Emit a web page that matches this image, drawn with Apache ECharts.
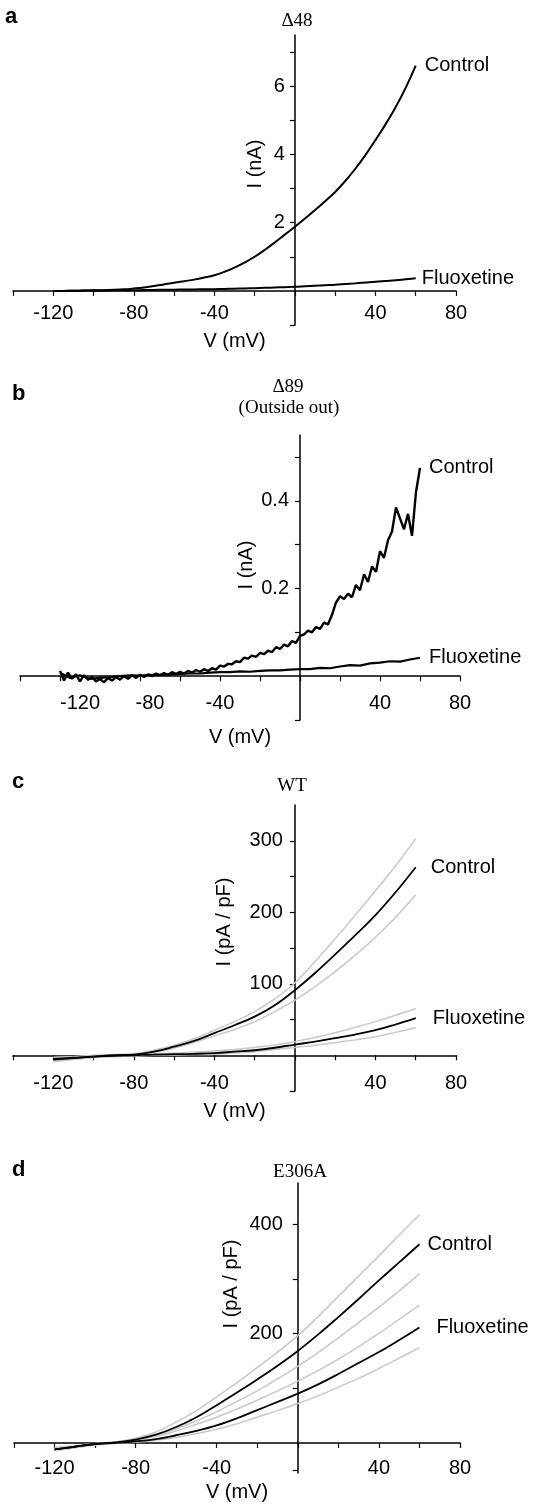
<!DOCTYPE html>
<html>
<head>
<meta charset="utf-8">
<style>
html, body { margin: 0; padding: 0; background: #fff; }
#container { width: 534px; height: 1507px; }
</style>
</head>
<body>
<div id="container"></div>
<script src="https://cdn.jsdelivr.net/npm/echarts@6/dist/echarts.min.js"></script>
<script>
const SANS = 'Liberation Sans, Arial, Helvetica, sans-serif';
const SERIF = 'Liberation Serif, Times New Roman, serif';
const GRAY = '#c8c8c8';

// x axis (V, mV) shared by all panels
const X_MIN = -140, X_MAX = 80;
const X_TICKS = [-140, -120, -100, -80, -60, -40, -20, 0, 20, 40, 60, 80];
const X_LABELS = [-120, -80, -40, 40, 80];

// panel a : Δ48
const V_A = [-120, -115, -110, -105, -100, -95, -90, -85, -80, -75, -70, -65, -60, -55, -50, -45, -40, -35, -30, -25,
    -20, -15, -10, -5, 0, 5, 10, 15, 20, 25, 30, 35, 40, 45, 50, 55, 60];
const A_CONTROL = [0.0, 0.0, 0.005, 0.01, 0.015, 0.02, 0.03, 0.045, 0.07, 0.1, 0.14, 0.19, 0.24, 0.285, 0.33, 0.39, 0.46, 0.56, 0.68, 0.83,
    1.0, 1.2, 1.42, 1.65, 1.88, 2.12, 2.37, 2.63, 2.9, 3.22, 3.58, 3.98, 4.42, 4.88, 5.38, 5.95, 6.6];
const A_FLUOX = [0.0, 0.0, 0.005, 0.008, 0.01, 0.012, 0.015, 0.018, 0.02, 0.024, 0.028, 0.032, 0.035, 0.04, 0.044, 0.047, 0.05, 0.057, 0.064, 0.072,
    0.08, 0.09, 0.1, 0.11, 0.12, 0.135, 0.15, 0.165, 0.18, 0.2, 0.22, 0.245, 0.27, 0.29, 0.31, 0.34, 0.37];
const A_Y_TICKS = [-1, 1, 2, 3, 4, 5, 6, 7];
const A_Y_LABELS = [2, 4, 6];

// panel b : Δ89 (outside out)
const V_B_CONTROL = [-120, -118, -116, -114, -112, -110, -108, -106, -104, -102, -100, -98, -96, -94, -92, -90, -88, -86, -84, -82,
    -80, -78, -76, -74, -72, -70, -68, -66, -64, -62, -60, -58, -56, -54, -52, -50, -48, -46, -44, -42,
    -40, -38, -36, -34, -32, -30, -28, -26, -24, -22, -20, -18, -16, -14, -12, -10, -8, -6, -4, -2,
    0, 2, 4, 6, 8, 10, 12, 14, 16, 18, 20, 22, 24, 26, 28, 30, 32, 34, 36, 38,
    40, 42, 44, 46, 48, 50, 52, 54, 56, 58, 60];
const B_CONTROL = [0.012, -0.010, 0.008, -0.006, 0.004, -0.012, 0.002, -0.008, -0.002, -0.012, -0.006, -0.014, -0.004, -0.010, -0.002, -0.008, 0.000, -0.006, 0.002, -0.004,
    0.003, -0.002, 0.004, 0.000, 0.006, 0.002, 0.007, 0.003, 0.009, 0.005, 0.010, 0.006, 0.012, 0.008, 0.014, 0.010, 0.016, 0.012, 0.018, 0.015,
    0.024, 0.022, 0.028, 0.027, 0.034, 0.032, 0.042, 0.040, 0.047, 0.044, 0.053, 0.050, 0.058, 0.055, 0.066, 0.062, 0.072, 0.068, 0.080, 0.076,
    0.092, 0.095, 0.104, 0.100, 0.112, 0.108, 0.122, 0.118, 0.140, 0.168, 0.182, 0.176, 0.188, 0.180, 0.208, 0.196, 0.232, 0.215, 0.250, 0.238,
    0.285, 0.270, 0.310, 0.330, 0.385, 0.360, 0.335, 0.370, 0.320, 0.420, 0.475];
const V_B_FLUOX = [-120, -115, -110, -105, -100, -95, -90, -85, -80, -75, -70, -65, -60, -55, -50, -45, -40, -35, -30, -25,
    -20, -15, -10, -5, 0, 5, 10, 15, 20, 25, 30, 35, 40, 45, 50, 55, 60];
const B_FLUOX = [0.008, -0.004, 0.002, -0.006, -0.004, -0.002, 0.000, 0.002, 0.001, 0.003, 0.003, 0.004, 0.005, 0.006, 0.006, 0.008, 0.009, 0.009, 0.011, 0.010,
    0.012, 0.013, 0.013, 0.015, 0.016, 0.016, 0.019, 0.018, 0.022, 0.025, 0.024, 0.029, 0.031, 0.034, 0.033, 0.038, 0.042];
const B_Y_TICKS = [-0.1, 0.1, 0.2, 0.3, 0.4, 0.5];
const B_Y_LABELS = [0.2, 0.4];

// panels c and d : mean (black) and ± SEM (grey)
const V_CD = [-120, -110, -100, -90, -80, -70, -60, -50, -40, -30, -20, -10, 0, 10, 20, 30, 40, 50, 60];

const C_CONTROL = [-6, -4, -2, 0, 1, 5, 12, 20, 31, 42, 54, 70, 91, 115, 141, 168, 196, 228, 263];
const C_CONTROL_HI = [-3, -2, 0, 1, 2, 7, 14, 23, 35, 47, 61, 79, 101, 131, 163, 196, 230, 265, 303];
const C_CONTROL_LO = [-9, -6, -3, -1, 1, 4, 10, 18, 27, 36, 47, 61, 77, 96, 117, 140, 165, 193, 224];
const C_FLUOX = [-5, -3.5, -2, -1, 0, 1, 1.5, 2, 3, 5, 7, 10.5, 15, 19, 24, 29, 35, 43, 52];
const C_FLUOX_HI = [-3, -2, -1, 0, 1, 2, 3, 4.5, 6, 8, 11, 14.5, 19, 25, 31.5, 39, 47, 56, 65.5];
const C_FLUOX_LO = [-8, -5, -3, -2, -1, 0, 0.5, 1, 1.5, 3, 5, 8, 11, 14, 17.6, 21.5, 26, 32, 38.5];
const C_Y_TICKS = [-50, 50, 100, 150, 200, 250, 300];
const C_Y_LABELS = [100, 200, 300];

const D_CONTROL = [-12, -7, -2, 1, 6, 15, 29, 47, 69, 92, 116, 141, 168, 198, 230, 263, 297, 330, 363];
const D_CONTROL_HI = [-8, -5, -1, 2, 8.6, 20, 38, 59, 84, 110, 138, 166, 196, 231, 268, 305, 342, 380, 417];
const D_CONTROL_LO = [-14, -9, -3, 1, 6, 14, 26, 40, 57, 76, 95, 117, 140, 165, 192, 220, 248, 278, 309];
const D_FLUOX = [-12, -7, -2, 0, 3, 7, 14, 22, 32, 45, 60, 75, 90, 107, 126, 146, 166, 188, 211];
const D_FLUOX_HI = [-14, -9, -3, 1, 5, 12, 22, 34, 47, 62, 78, 95, 113, 132, 153, 176, 200, 226, 252];
const D_FLUOX_LO = [-14, -9, -4, -1, 1, 5, 10, 17, 25, 35, 47, 59, 72, 86, 102, 118, 136, 155, 174];
const D_Y_TICKS = [-50, 100, 200, 300, 400];
const D_Y_LABELS = [200, 400];

const pair = (xs, ys) => xs.map((x, i) => [x, ys[i]]);

const W = 534;
const grids = [
    { left: 13, right: 78, top: 35, height: 290, ymin: -1, ymax: 7.5 },
    { left: 20, right: 74, top: 435, height: 285, ymin: -0.1, ymax: 0.55 },
    { left: 13, right: 78, top: 805, height: 286, ymin: -50, ymax: 350 },
    { left: 14, right: 74, top: 1183, height: 290, ymin: -55, ymax: 475 }
];

// the axes cross at (0, 0): shift each axis inside its grid so labels follow the line
function xAxisFor(i, labelMargin, nameGap, shifted) {
    let g = grids[i];
    let off = -(0 - g.ymin) / (g.ymax - g.ymin) * g.height;
    let label = { margin: labelMargin, customValues: X_LABELS, fontFamily: SANS, fontSize: 20, color: '#000' };
    if (shifted) {
        // panel b prints its two leftmost numbers a little right of their ticks
        label.formatter = v => v === -120 ? '{p40|-120}' : (v === -80 ? '{p20|-80}' : String(v));
        label.rich = {
            p40: { padding: [0, 0, 0, 40], fontFamily: SANS, fontSize: 20, color: '#000' },
            p20: { padding: [0, 0, 0, 20], fontFamily: SANS, fontSize: 20, color: '#000' }
        };
    }
    return {
        type: 'value', gridIndex: i, min: X_MIN, max: X_MAX, interval: 20,
        position: 'bottom', offset: off,
        name: 'V (mV)', nameLocation: 'middle', nameGap: nameGap,
        nameTextStyle: { fontFamily: SANS, fontSize: 20, color: '#000' },
        axisLine: { onZero: false, lineStyle: { color: '#000', width: 1.5 } },
        axisTick: { show: true, length: 5, customValues: X_TICKS, lineStyle: { color: '#000', width: 1.2 } },
        axisLabel: label,
        splitLine: { show: false }
    };
}

function yAxisFor(i, ticks, labels, labelMargin) {
    let g = grids[i];
    let width = W - g.left - g.right;
    let off = -(0 - X_MIN) / (X_MAX - X_MIN) * width;
    return {
        type: 'value', gridIndex: i, min: g.ymin, max: g.ymax,
        position: 'left', offset: off,
        axisLine: { onZero: false, lineStyle: { color: '#000', width: 1.5 } },
        axisTick: { show: true, length: 5, customValues: ticks, lineStyle: { color: '#000', width: 1.2 } },
        axisLabel: { margin: labelMargin, customValues: labels, fontFamily: SANS, fontSize: 20, color: '#000' },
        splitLine: { show: false }
    };
}

function trace(idx, xs, ys, color, width, smooth, endText, pad) {
    let s = {
        type: 'line', xAxisIndex: idx, yAxisIndex: idx,
        data: pair(xs, ys), showSymbol: false, smooth: smooth, silent: true,
        lineStyle: { color: color, width: width }
    };
    if (endText) {
        s.endLabel = {
            show: true, formatter: endText, distance: 0, padding: pad,
            fontFamily: SANS, fontSize: 20, color: '#000'
        };
    }
    return s;
}

function text(t, x, y, font, align, rotation) {
    return {
        type: 'text', x: x, y: y, rotation: rotation || 0, silent: true,
        style: { text: t, font: font, fill: '#000', align: align || 'center', verticalAlign: 'middle' }
    };
}

let dom = document.getElementById('container');
let myChart = echarts.init(dom, null, { renderer: 'canvas' });

let option = {
    animation: false,
    backgroundColor: '#fff',
    grid: grids.map(g => ({
        left: g.left, right: g.right, top: g.top, height: g.height,
        containLabel: false, outerBoundsMode: 'none'
    })),
    xAxis: [
        xAxisFor(0, 13, 41),
        xAxisFor(1, 17, 51, true),
        xAxisFor(2, 18, 46),
        xAxisFor(3, 16, 40)
    ],
    yAxis: [
        yAxisFor(0, A_Y_TICKS, A_Y_LABELS, 10),
        yAxisFor(1, B_Y_TICKS, B_Y_LABELS, 11),
        yAxisFor(2, C_Y_TICKS, C_Y_LABELS, 12),
        yAxisFor(3, D_Y_TICKS, D_Y_LABELS, 15)
    ],
    series: [
        trace(0, V_A, A_CONTROL, '#000', 2, 0.4, 'Control', [0, 0, 8, 9]),
        trace(0, V_A, A_FLUOX, '#000', 2, 0.4, 'Fluoxetine', [0, 0, 18, 6]),

        trace(1, V_B_CONTROL, B_CONTROL, '#000', 2.4, false, 'Control', [0, 0, 8, 9]),
        trace(1, V_B_FLUOX, B_FLUOX, '#000', 2.2, false, 'Fluoxetine', [7, 0, 0, 9]),

        trace(2, V_CD, C_CONTROL_HI, GRAY, 1.5, 0.4),
        trace(2, V_CD, C_CONTROL_LO, GRAY, 1.5, 0.4),
        trace(2, V_CD, C_FLUOX_HI, GRAY, 1.5, 0.4),
        trace(2, V_CD, C_FLUOX_LO, GRAY, 1.5, 0.4),
        trace(2, V_CD, C_CONTROL, '#000', 1.8, 0.4, 'Control', [0, 0, 12, 15]),
        trace(2, V_CD, C_FLUOX, '#000', 1.8, 0.4, 'Fluoxetine', [2, 0, 0, 17]),

        trace(3, V_CD, D_CONTROL_HI, GRAY, 1.5, 0.4),
        trace(3, V_CD, D_CONTROL_LO, GRAY, 1.5, 0.4),
        trace(3, V_CD, D_FLUOX_HI, GRAY, 1.5, 0.4),
        trace(3, V_CD, D_FLUOX_LO, GRAY, 1.5, 0.4),
        trace(3, V_CD, D_CONTROL, '#000', 1.8, 0.4, 'Control', [0, 0, 0, 8]),
        trace(3, V_CD, D_FLUOX, '#000', 1.8, 0.4, 'Fluoxetine', [0, 0, 0, 17])
    ],
    graphic: [
        text('a', 5, 17, 'bold 22px ' + SANS, 'left'),
        text('b', 12, 394, 'bold 22px ' + SANS, 'left'),
        text('c', 12, 782, 'bold 22px ' + SANS, 'left'),
        text('d', 12, 1170, 'bold 22px ' + SANS, 'left'),

        text('Δ48', 297, 21, '19px ' + SERIF),
        text('Δ89', 288, 387, '19px ' + SERIF),
        text('(Outside out)', 289, 408, '19px ' + SERIF),
        text('WT', 292, 786, '19px ' + SERIF),
        text('E306A', 300, 1172, '19px ' + SERIF),

        text('I (nA)', 255, 164, '20px ' + SANS, 'center', Math.PI / 2),
        text('I (nA)', 246, 565, '20px ' + SANS, 'center', Math.PI / 2),
        text('I (pA / pF)', 224, 922, '20px ' + SANS, 'center', Math.PI / 2),
        text('I (pA / pF)', 231, 1284, '20px ' + SANS, 'center', Math.PI / 2)
    ]
};

myChart.setOption(option);
</script>
</body>
</html>
